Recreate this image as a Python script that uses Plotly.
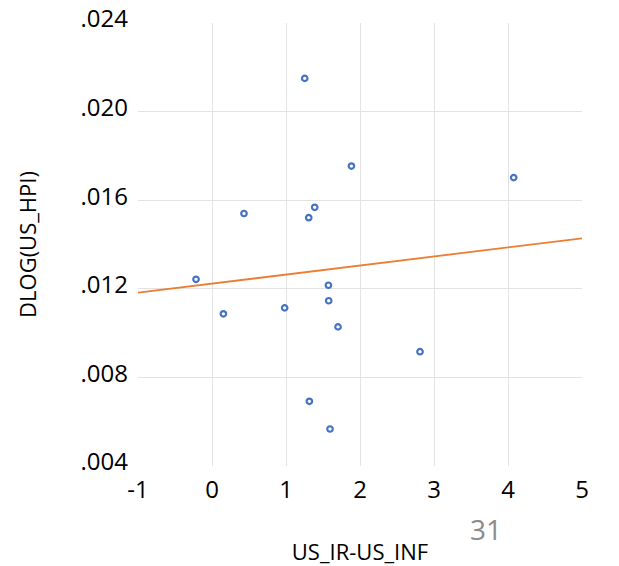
import numpy as np
import plotly.graph_objects as go

# Real interest-rate gap vs. house-price growth
us_ir_minus_inf = [1.253, 1.884, 0.432, 1.388, 1.307, -0.216, 1.573, 1.577,
                   0.154, 0.982, 1.703, 2.811, 1.316, 1.595, 4.077]
dlog_us_hpi = [0.02150, 0.01754, 0.01540, 0.01568, 0.01521, 0.01243, 0.01216, 0.01146,
               0.01087, 0.01114, 0.01028, 0.00916, 0.00692, 0.00567, 0.01702]

x_range = [-1, 5]
x_ticks = [-1, 0, 1, 2, 3, 4, 5]
y_ticks = [0.004, 0.008, 0.012, 0.016, 0.020, 0.024]
y_tick_labels = [".004", ".008", ".012", ".016", ".020", ".024"]
page_number = "31"

# Least-squares trend line over the plotted points
slope, intercept = np.polyfit(us_ir_minus_inf, dlog_us_hpi, 1)
trend_x = np.array(x_range, dtype=float)
trend_y = intercept + slope * trend_x

FONT = "Open Sans"

fig = go.Figure()
fig.add_trace(go.Scatter(
    x=trend_x, y=trend_y, mode="lines",
    line=dict(color="#ED7D31", width=1.8),
    hoverinfo="skip", showlegend=False,
))
fig.add_trace(go.Scatter(
    x=us_ir_minus_inf, y=dlog_us_hpi, mode="markers",
    marker=dict(symbol="circle-open", size=5.5, color="#4472C4",
                line=dict(color="#4472C4", width=2.2)),
    showlegend=False,
))

fig.update_layout(
    width=619, height=566,
    margin=dict(l=138, r=37, t=23, b=100),
    paper_bgcolor="white", plot_bgcolor="white",
    font=dict(family=FONT, color="black"),
    xaxis=dict(
        range=x_range, tickvals=x_ticks, ticktext=[str(v) for v in x_ticks],
        showgrid=True, gridcolor="#e3e3e3", gridwidth=1,
        zeroline=False, showline=False, ticks="",
        tickfont=dict(size=24, family=FONT), ticklabelstandoff=7,
        title=dict(text="US_IR-US_INF", font=dict(size=22, family=FONT), standoff=42),
        automargin=False,
    ),
    yaxis=dict(
        range=[y_ticks[0], y_ticks[-1]], tickvals=y_ticks, ticktext=y_tick_labels,
        showgrid=True, gridcolor="#e3e3e3", gridwidth=1,
        zeroline=False, showline=False, ticks="",
        tickfont=dict(size=24, family=FONT), ticklabelstandoff=9, ticklabelshift=-4,
        title=dict(text="DLOG(US_HPI)", font=dict(size=22, family=FONT), standoff=37),
        automargin=False,
    ),
    annotations=[dict(
        text=page_number, xref="paper", yref="paper",
        x=(486 - 138) / 444, y=(465.6 - 529) / 443,
        xanchor="center", yanchor="middle", showarrow=False,
        font=dict(size=28, family=FONT, color="#8c8c8c"),
    )],
)

fig.write_html("out.html")
